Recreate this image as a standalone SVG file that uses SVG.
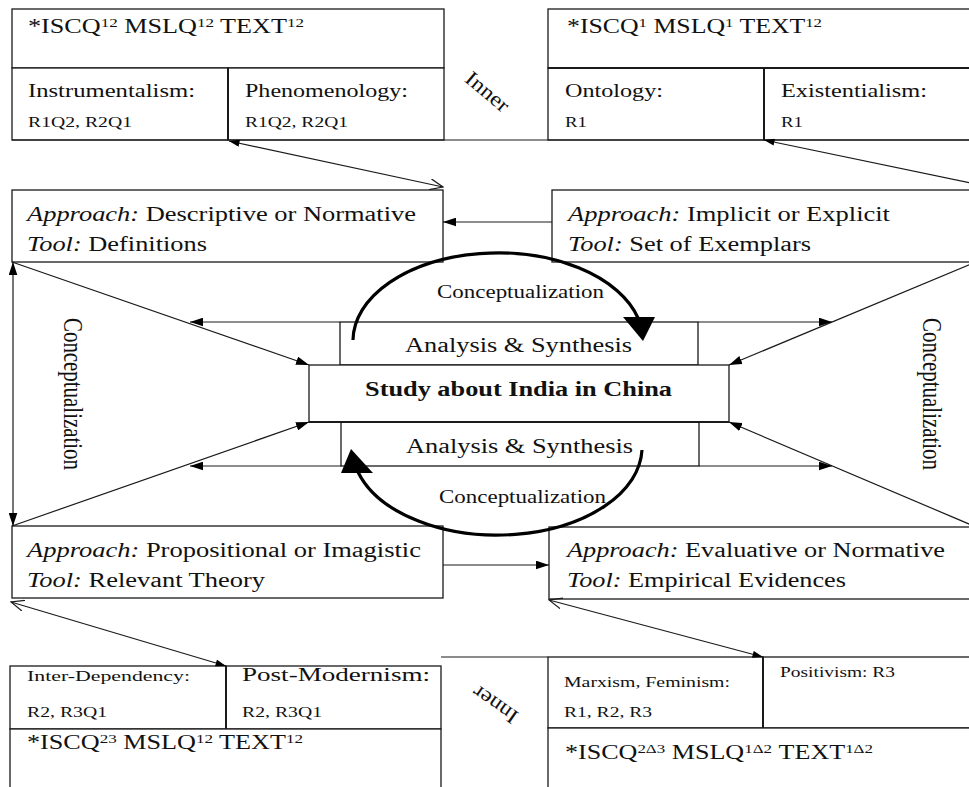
<svg xmlns="http://www.w3.org/2000/svg" width="969" height="787" viewBox="0 0 969 787">
<style>
.bx{fill:#fff;stroke:#1a1a1a;stroke-width:1.3}
.ln{fill:none;stroke:#1a1a1a;stroke-width:1.2}
.arc{fill:none;stroke:#000;stroke-width:3.2}
text{font-family:"Liberation Serif","Times New Roman",serif;fill:#111}
.t20{font-size:20px}
.t19{font-size:19px}
.t15{font-size:15px}
.t14{font-size:14px}
.sup{font-size:13px}
.it{font-style:italic}
</style>
<defs>
<marker id="fa" viewBox="0 0 12 8" refX="12" refY="4" markerWidth="13" markerHeight="9" markerUnits="userSpaceOnUse" orient="auto-start-reverse"><path d="M0,0 L12,4 L0,8 z" fill="#000"/></marker>
<marker id="fs" viewBox="0 0 12 8" refX="12" refY="4" markerWidth="11" markerHeight="7" markerUnits="userSpaceOnUse" orient="auto-start-reverse"><path d="M0,0 L12,4 L0,8 z" fill="#000"/></marker>
<marker id="ov" viewBox="0 0 14 12" refX="13" refY="6" markerWidth="14" markerHeight="12" markerUnits="userSpaceOnUse" orient="auto"><path d="M0,0.5 L13,6 L0,11.5" fill="none" stroke="#1a1a1a" stroke-width="1.2"/></marker>
</defs>
<rect width="969" height="787" fill="#fff"/>

<g id="top-left">
<rect class="bx" x="12" y="9" width="432" height="59"/>
<rect class="bx" x="12" y="68" width="216" height="72"/>
<rect class="bx" x="228" y="68" width="216" height="72"/>
<line class="ln" x1="228" y1="68" x2="228" y2="140" style="stroke-width:2"/>
<text class="t20" x="28" y="33" textLength="276" lengthAdjust="spacingAndGlyphs">*ISCQ<tspan class="sup" dy="-6">12</tspan><tspan dy="6"> MSLQ</tspan><tspan class="sup" dy="-6">12</tspan><tspan dy="6"> TEXT</tspan><tspan class="sup" dy="-6">12</tspan></text>
<text class="t19" x="28" y="97" textLength="167" lengthAdjust="spacingAndGlyphs">Instrumentalism:</text>
<text class="t15" x="28" y="127" textLength="104" lengthAdjust="spacingAndGlyphs">R1Q2, R2Q1</text>
<text class="t19" x="245" y="97" textLength="163" lengthAdjust="spacingAndGlyphs">Phenomenology:</text>
<text class="t15" x="245" y="127" textLength="103" lengthAdjust="spacingAndGlyphs">R1Q2, R2Q1</text>
</g>

<g id="top-right">
<rect class="bx" x="548" y="9" width="440" height="59"/>
<rect class="bx" x="548" y="68" width="216" height="72"/>
<rect class="bx" x="764" y="68" width="224" height="72"/>
<line class="ln" x1="764" y1="68" x2="764" y2="140" style="stroke-width:2"/>
<line class="ln" x1="548" y1="68" x2="969" y2="68" style="stroke-width:1.8"/>
<text class="t20" x="567" y="33" textLength="255" lengthAdjust="spacingAndGlyphs">*ISCQ<tspan class="sup" dy="-6">1</tspan><tspan dy="6"> MSLQ</tspan><tspan class="sup" dy="-6">1</tspan><tspan dy="6"> TEXT</tspan><tspan class="sup" dy="-6">12</tspan></text>
<text class="t19" x="565" y="97" textLength="98" lengthAdjust="spacingAndGlyphs">Ontology:</text>
<text class="t15" x="565" y="127" textLength="22" lengthAdjust="spacingAndGlyphs">R1</text>
<text class="t19" x="781" y="97" textLength="146" lengthAdjust="spacingAndGlyphs">Existentialism:</text>
<text class="t15" x="781" y="127" textLength="22" lengthAdjust="spacingAndGlyphs">R1</text>
</g>

<g id="descriptive">
<rect class="bx" x="12" y="190" width="431" height="72"/>
<text class="t20" x="27" y="221" textLength="389" lengthAdjust="spacingAndGlyphs"><tspan class="it">Approach:</tspan> Descriptive or Normative</text>
<text class="t20" x="27" y="251" textLength="180" lengthAdjust="spacingAndGlyphs"><tspan class="it">Tool:</tspan> Definitions</text>
</g>

<g id="implicit">
<rect class="bx" x="552" y="190" width="430" height="72"/>
<text class="t20" x="568" y="221" textLength="322" lengthAdjust="spacingAndGlyphs"><tspan class="it">Approach:</tspan> Implicit or Explicit</text>
<text class="t20" x="568" y="251" textLength="243" lengthAdjust="spacingAndGlyphs"><tspan class="it">Tool:</tspan> Set of Exemplars</text>
</g>

<g id="propositional">
<rect class="bx" x="12" y="526" width="431" height="72"/>
<text class="t20" x="27" y="557" textLength="394" lengthAdjust="spacingAndGlyphs"><tspan class="it">Approach:</tspan> Propositional or Imagistic</text>
<text class="t20" x="27" y="587" textLength="238" lengthAdjust="spacingAndGlyphs"><tspan class="it">Tool:</tspan> Relevant Theory</text>
</g>

<g id="evaluative">
<rect class="bx" x="549" y="527" width="430" height="72"/>
<text class="t20" x="567" y="557" textLength="378" lengthAdjust="spacingAndGlyphs"><tspan class="it">Approach:</tspan> Evaluative or Normative</text>
<text class="t20" x="567" y="587" textLength="279" lengthAdjust="spacingAndGlyphs"><tspan class="it">Tool:</tspan> Empirical Evidences</text>
</g>

<g id="analysis-upper">
<rect class="bx" x="340" y="322" width="358" height="43"/>
<text class="t20" x="405" y="352" textLength="227" lengthAdjust="spacingAndGlyphs">Analysis &amp; Synthesis</text>
</g>

<g id="analysis-lower">
<rect class="bx" x="341" y="422" width="358" height="44"/>
<text class="t20" x="406" y="453" textLength="227" lengthAdjust="spacingAndGlyphs">Analysis &amp; Synthesis</text>
</g>

<g id="study">
<rect class="bx" x="309" y="365" width="420" height="57"/>
<line class="ln" x1="309" y1="422" x2="729" y2="422" style="stroke-width:2"/>
<text class="t20" x="365" y="396" font-weight="bold" textLength="307" lengthAdjust="spacingAndGlyphs">Study about India in China</text>
</g>

<g id="bottom-left">
<rect class="bx" x="10" y="666" width="216" height="63"/>
<rect class="bx" x="226" y="666" width="215" height="63"/>
<rect class="bx" x="10" y="729" width="431" height="70"/>
<line class="ln" x1="226" y1="666" x2="226" y2="729" style="stroke-width:2"/>
<text class="t14" x="27" y="681" textLength="163" lengthAdjust="spacingAndGlyphs">Inter-Dependency:</text>
<text class="t15" x="27" y="717" textLength="80" lengthAdjust="spacingAndGlyphs">R2, R3Q1</text>
<text class="t19" x="242" y="681" textLength="188" lengthAdjust="spacingAndGlyphs">Post-Modernism:</text>
<text class="t15" x="242" y="717" textLength="80" lengthAdjust="spacingAndGlyphs">R2, R3Q1</text>
<text class="t20" x="27" y="749" textLength="276" lengthAdjust="spacingAndGlyphs">*ISCQ<tspan class="sup" dy="-6">23</tspan><tspan dy="6"> MSLQ</tspan><tspan class="sup" dy="-6">12</tspan><tspan dy="6"> TEXT</tspan><tspan class="sup" dy="-6">12</tspan></text>
</g>

<g id="bottom-right">
<line class="ln" x1="441" y1="657" x2="548" y2="657"/>
<rect class="bx" x="548" y="657" width="215" height="71"/>
<rect class="bx" x="763" y="657" width="230" height="71"/>
<rect class="bx" x="548" y="728" width="440" height="70"/>
<line class="ln" x1="763" y1="657" x2="763" y2="728" style="stroke-width:2"/>
<text class="t14" x="564" y="687" textLength="166" lengthAdjust="spacingAndGlyphs">Marxism, Feminism:</text>
<text class="t14" x="564" y="717" textLength="88" lengthAdjust="spacingAndGlyphs">R1, R2, R3</text>
<text class="t14" x="780" y="677" textLength="115" lengthAdjust="spacingAndGlyphs">Positivism: R3</text>
<text class="t20" x="565" y="759" textLength="308" lengthAdjust="spacingAndGlyphs">*ISCQ<tspan class="sup" dy="-6">2Δ3</tspan><tspan dy="6"> MSLQ</tspan><tspan class="sup" dy="-6">1Δ2</tspan><tspan dy="6"> TEXT</tspan><tspan class="sup" dy="-6">1Δ2</tspan></text>
</g>

<g id="connectors">
<line class="ln" x1="12" y1="140" x2="969" y2="140"/>
<path class="ln" d="M229,141 L443,187" marker-start="url(#fs)" marker-end="url(#ov)"/>
<path class="ln" d="M764,140 L990,187" marker-start="url(#fs)"/>
<path class="ln" d="M226,666 L11,602" marker-start="url(#fs)" marker-end="url(#ov)"/>
<path class="ln" d="M763,657 L549,600" marker-start="url(#fs)" marker-end="url(#ov)"/>
<path class="ln" d="M552,222 L443,222" marker-end="url(#fa)"/>
<path class="ln" d="M443,565 L549,565" marker-end="url(#fa)"/>
<path class="ln" d="M13,262 L13,526" marker-start="url(#fa)" marker-end="url(#fa)"/>
<path class="ln" d="M12,262 L309,365" marker-end="url(#fa)"/>
<path class="ln" d="M12,526 L309,422" marker-end="url(#fa)"/>
<path class="ln" d="M976,262 L729,365" marker-end="url(#fa)"/>
<path class="ln" d="M976,527 L729,422" marker-end="url(#fa)"/>
<path class="ln" d="M340,322 L190,322" marker-end="url(#fa)"/>
<path class="ln" d="M698,322 L832,322" marker-end="url(#fa)"/>
<path class="ln" d="M341,466 L190,466" marker-end="url(#fa)"/>
<path class="ln" d="M699,466 L832,466" marker-end="url(#fa)"/>
<path class="arc" d="M353,340 A145,88 0 0 1 638,318"/>
<polygon points="623,317 655,317 643,341" fill="#000"/>
<path class="arc" d="M642,450 A145,88 0 0 1 358,472"/>
<polygon points="341,473 373,473 351,449" fill="#000"/>
</g>

<g id="labels">
<text font-size="18.5" x="437" y="298" textLength="167" lengthAdjust="spacingAndGlyphs">Conceptualization</text>
<text font-size="18.5" x="439" y="503" textLength="167" lengthAdjust="spacingAndGlyphs">Conceptualization</text>
<text font-size="21" transform="translate(64,318) rotate(90) scale(1,1.3)" textLength="152" lengthAdjust="spacingAndGlyphs">Conceptualization</text>
<text font-size="21" transform="translate(923,318) rotate(90) scale(1,1.3)" textLength="152" lengthAdjust="spacingAndGlyphs">Conceptualization</text>
<text font-size="21" text-anchor="middle" transform="translate(483,97) rotate(40) scale(1.15,1)">Inner</text>
<text font-size="21" text-anchor="middle" transform="translate(499,699) rotate(215) scale(1.15,1)">Inner</text>
</g>
</svg>
